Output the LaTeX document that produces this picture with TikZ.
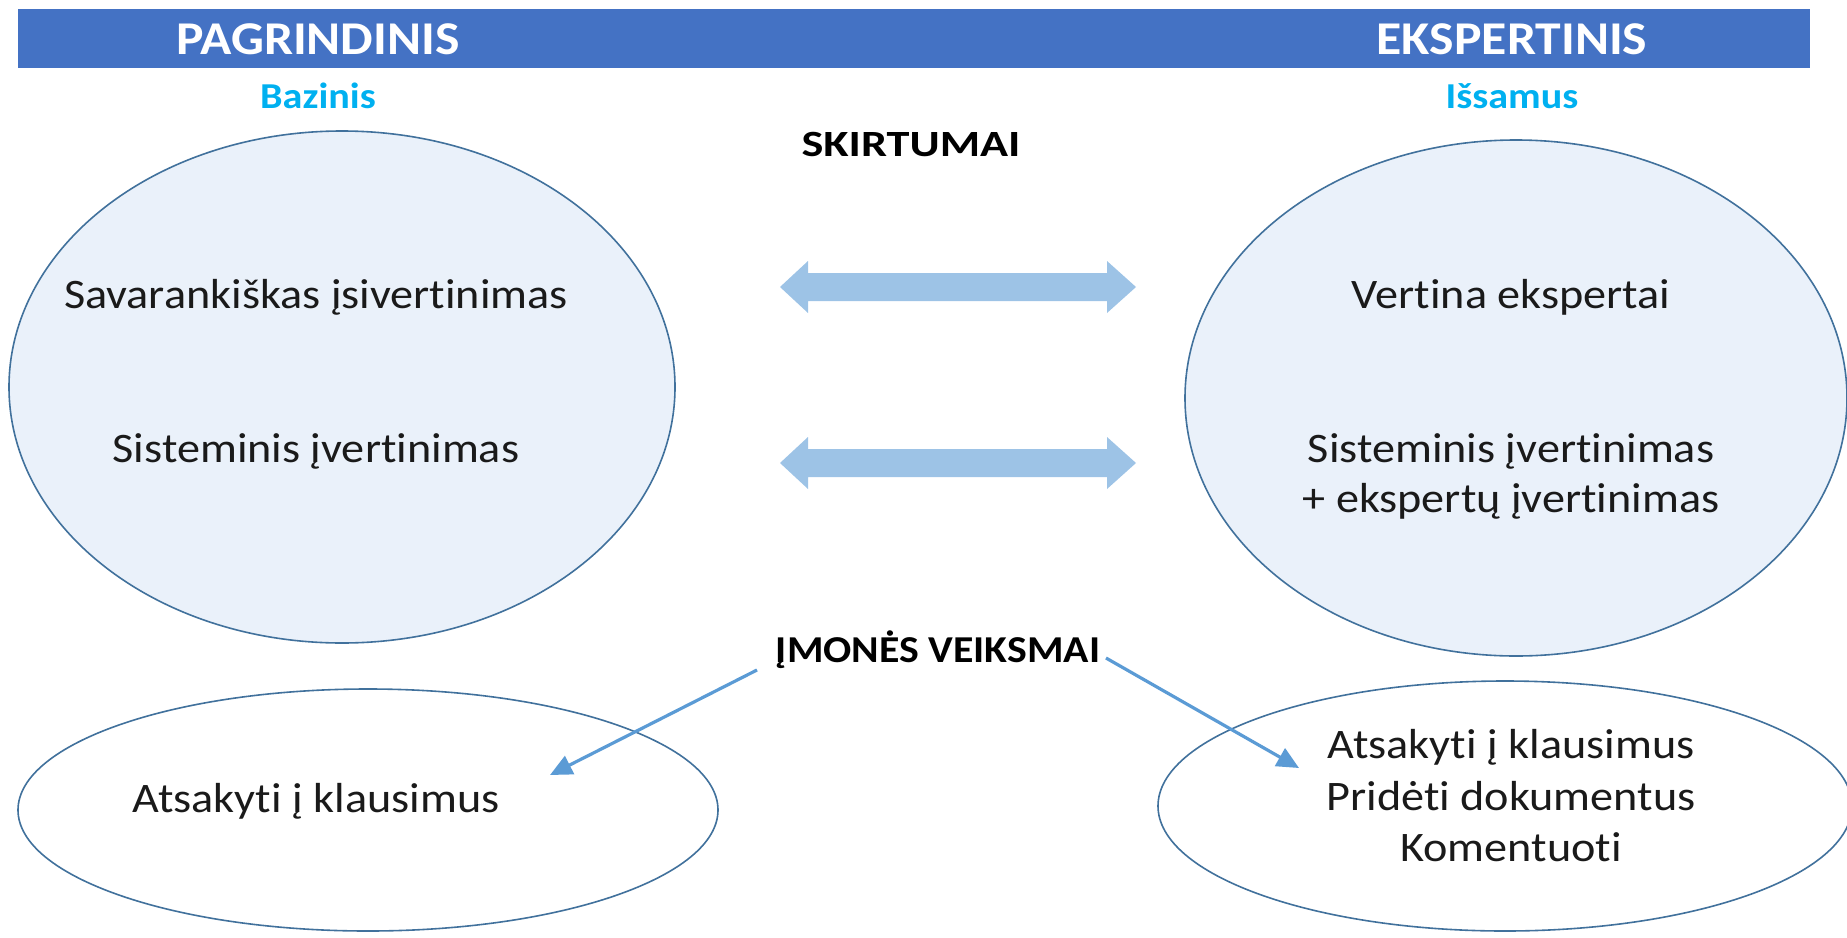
\documentclass[tikz,border=0pt]{standalone}
\usepackage{fontspec}
\setmainfont{Carlito}[FakeStretch=1.1,Ligatures=NoCommon]
\newfontfamily\headfont{Carlito}[FakeStretch=1.25,Ligatures=NoCommon]
\usetikzlibrary{arrows.meta,shapes.geometric}
\definecolor{barblue}{HTML}{4472C4}
\definecolor{subcyan}{HTML}{00B0F0}
\definecolor{ellfill}{HTML}{EAF1FA}
\definecolor{elldraw}{HTML}{41719C}
\definecolor{dblarrow}{HTML}{9DC3E6}
\definecolor{linkblue}{HTML}{5B9BD5}
\definecolor{txt}{HTML}{1A1A1A}
\begin{document}
\begin{tikzpicture}[x=1pt,y=-1pt,
  bigell/.style={ellipse, draw=elldraw, fill=ellfill, line width=1.6pt, inner sep=0pt},
  smallell/.style={ellipse, draw=elldraw, fill=white, line width=1.6pt, inner sep=0pt},
  titletxt/.style={font=\bfseries\fontsize{47}{56}\selectfont, text=white, inner sep=0pt, anchor=base},
  subtxt/.style={font=\bfseries\fontsize{36.5}{44}\selectfont, text=subcyan, inner sep=0pt, anchor=base},
  headtxt/.style={font=\headfont\bfseries\fontsize{37}{44}\selectfont, text=black, inner sep=0pt, anchor=base},
  acttxt/.style={font=\bfseries\fontsize{38}{46}\selectfont, text=black, inner sep=0pt, anchor=base},
  bodytxt/.style={font=\fontsize{42}{50}\selectfont, text=txt, inner sep=0pt, anchor=base},
  dblarr/.style={fill=dblarrow},
  link/.style={draw=linkblue, line width=3.2pt, -{Triangle[length=22pt,width=20pt]}}]
\useasboundingbox (0,0) rectangle (1847,937);
\begin{scope}
\clip (0,0) rectangle (1847,937);
\fill[barblue] (18,9) rectangle (1810,68);
\node[titletxt] (t1) at (318,54) {PAGRINDINIS};
\node[titletxt] (t2) at (1512,54) {EKSPERTINIS};
\node[subtxt] (s1) at (318,108) {Bazinis};
\node[subtxt] (s2) at (1512,108) {Išsamus};
\node[headtxt] (h1) at (911,156) {SKIRTUMAI};

\node[bigell, minimum width=666pt, minimum height=512pt] (e1) at (342,387) {};
\node[bigell, minimum width=662pt, minimum height=516pt] (e2) at (1516,398) {};
\node[smallell, minimum width=700pt, minimum height=242pt] (e3) at (368,810) {};
\node[smallell, minimum width=694pt, minimum height=250pt] (e4) at (1505,806) {};

\node[bodytxt] (a1) at (316,308) {Savarankiškas įsivertinimas};
\node[bodytxt] (a2) at (316,462) {Sisteminis įvertinimas};
\node[bodytxt] (b1) at (1511,308) {Vertina ekspertai};
\node[bodytxt] (b2) at (1511,462) {Sisteminis įvertinimas};
\node[bodytxt] (b3) at (1511,512) {+ ekspertų įvertinimas};

\fill[dblarr] (780,287) -- (808,261) -- (808,273) -- (1107,273) -- (1107,261) -- (1136,287)
  -- (1107,313) -- (1107,301) -- (808,301) -- (808,313) -- cycle;
\fill[dblarr] (780,463) -- (808,437) -- (808,449) -- (1107,449) -- (1107,437) -- (1136,463)
  -- (1107,489) -- (1107,477) -- (808,477) -- (808,489) -- cycle;

\node[acttxt] (h2) at (938,662) {ĮMONĖS VEIKSMAI};

\node[bodytxt] (c1) at (316,812) {Atsakyti į klausimus};
\node[bodytxt] (d1) at (1511,758) {Atsakyti į klausimus};
\node[bodytxt] (d2) at (1511,810) {Pridėti dokumentus};
\node[bodytxt] (d3) at (1511,861) {Komentuoti};

\coordinate (la0) at (757,670);
\coordinate (la1) at (550,775);
\coordinate (ra0) at (1106,658);
\coordinate (ra1) at (1299,768);
\draw[link] (la0) -- (la1);
\draw[link] (ra0) -- (ra1);
\end{scope}
\end{tikzpicture}
\end{document}
